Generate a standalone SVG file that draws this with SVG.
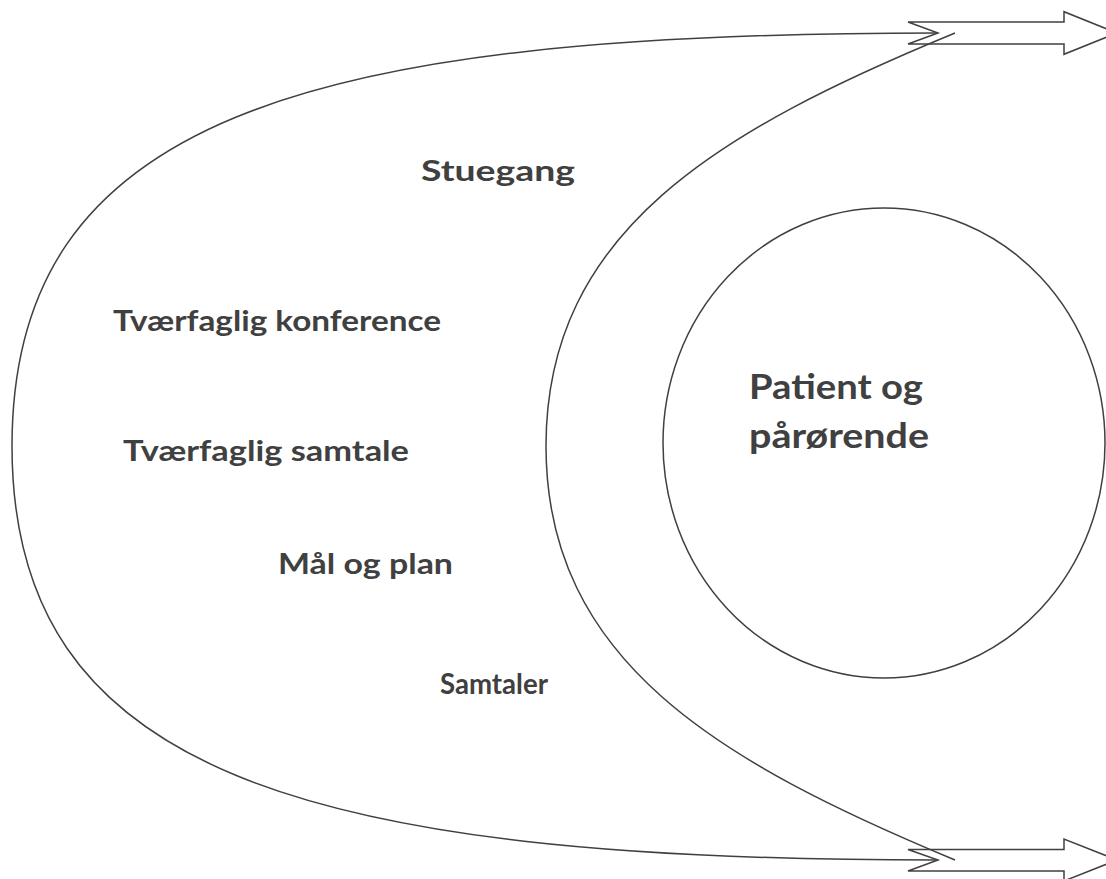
<svg xmlns="http://www.w3.org/2000/svg" width="1106" height="879" viewBox="0 0 1106 879">
<style>
.ln{fill:none;stroke:#404040;stroke-width:1.5}
.t{font-family:Lato,"Open Sans","Liberation Sans",sans-serif;font-weight:bold;fill:#404040}
.s{font-size:29px}
.b{font-size:34px}
</style>
<rect width="1106" height="879" fill="#ffffff"/>
<g id="connectors">
<path id="outer-curve" class="ln" d="M938,33 C300,33 12,120 12,446 C12,772 300,860 938,860"/>
<path id="inner-curve" class="ln" d="M955,33 C720,130 546,230 546,446 C546,662 720,762 955,860"/>
<path id="arrow-top" class="ln" d="M908,22 L1064,22 L1064,11.7 L1117,33 L1064,54.3 L1064,44 L908,44 L938,33 Z"/>
<path id="arrow-bottom" class="ln" d="M908,849.5 L1064,849.5 L1064,839 L1117,860 L1064,881 L1064,871 L908,871 L938,860 Z"/>
</g>
<g id="patient">
<ellipse class="ln" cx="884" cy="443" rx="221" ry="235"/>
<text class="t b" x="749" y="399" textLength="174" lengthAdjust="spacingAndGlyphs">Patient og</text>
<text class="t b" x="749" y="448" textLength="180" lengthAdjust="spacingAndGlyphs">pårørende</text>
</g>
<g id="stuegang"><text class="t s" x="421" y="181" textLength="154" lengthAdjust="spacingAndGlyphs">Stuegang</text></g>
<g id="tvaerfaglig-konference"><text class="t s" x="113" y="331" textLength="328" lengthAdjust="spacingAndGlyphs">Tværfaglig konference</text></g>
<g id="tvaerfaglig-samtale"><text class="t s" x="123" y="461" textLength="286" lengthAdjust="spacingAndGlyphs">Tværfaglig samtale</text></g>
<g id="maal-og-plan"><text class="t s" x="278" y="574" textLength="175" lengthAdjust="spacingAndGlyphs">Mål og plan</text></g>
<g id="samtaler"><text class="t s" x="440" y="694" textLength="108" lengthAdjust="spacingAndGlyphs">Samtaler</text></g>
</svg>
